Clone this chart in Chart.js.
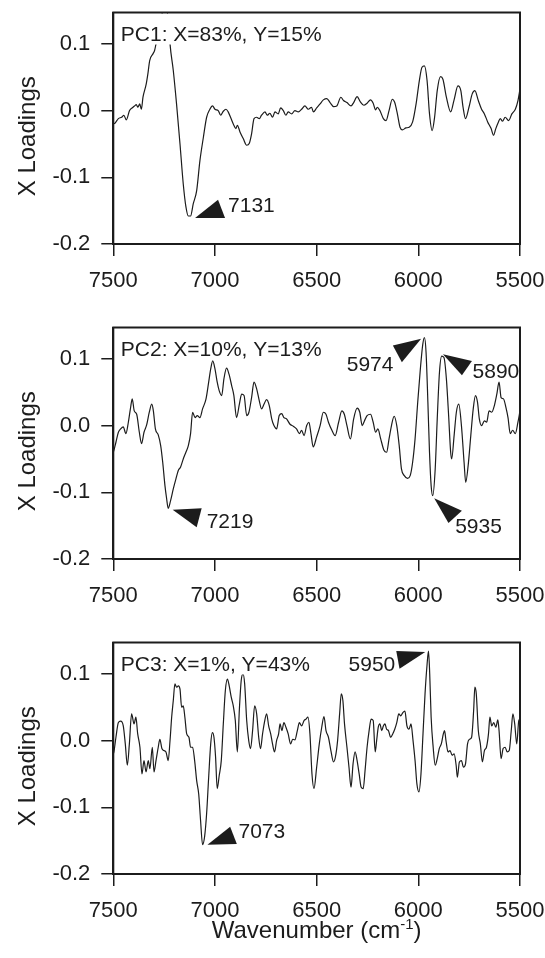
<!DOCTYPE html>
<html>
<head>
<meta charset="utf-8">
<script src="https://cdn.jsdelivr.net/npm/chart.js@4.4.1/dist/chart.umd.min.js"></script>
<style>
  html, body { margin: 0; padding: 0; background: #fff; }
  #wrap { position: relative; width: 545px; height: 958px; }
  canvas { position: absolute; left: 0; }
</style>
</head>
<body>
<div id="wrap">
  <canvas id="pc1" width="545" height="315" style="top:0px"></canvas>
  <canvas id="pc2" width="545" height="315" style="top:315px"></canvas>
  <canvas id="pc3" width="545" height="328" style="top:630px"></canvas>
</div>
<script>
// axis ticks
const xTicks = [7500, 7000, 6500, 6000, 5500]
const yTicks = [-0.2, -0.1, 0.0, 0.1]
const yTickLabels = ['-0.2', '-0.1', '0.0', '0.1']

// PC1 loadings
const pc1Wn = [7500, 7492, 7475, 7459, 7448, 7436, 7420, 7403, 7395, 7387, 7379, 7370, 7362, 7354, 7338, 7330, 7321, 7305, 7297, 7290, 7270, 7245, 7225, 7221, 7205, 7189, 7172, 7156, 7143, 7131, 7120, 7107, 7090, 7074, 7057, 7041, 7025, 7012, 7000, 6984, 6972, 6959, 6946, 6935, 6921, 6910, 6897, 6890, 6877, 6861, 6844, 6831, 6820, 6808, 6795, 6782, 6771, 6754, 6743, 6730, 6717, 6705, 6689, 6677, 6664, 6651, 6640, 6623, 6607, 6590, 6574, 6558, 6541, 6525, 6516, 6500, 6483, 6467, 6450, 6434, 6417, 6401, 6381, 6368, 6351, 6331, 6318, 6301, 6285, 6268, 6252, 6235, 6222, 6210, 6202, 6189, 6172, 6159, 6144, 6128, 6116, 6103, 6090, 6078, 6061, 6045, 6028, 6011, 5995, 5982, 5970, 5957, 5945, 5932, 5920, 5907, 5891, 5879, 5862, 5841, 5825, 5805, 5791, 5780, 5768, 5751, 5735, 5722, 5705, 5689, 5675, 5659, 5642, 5630, 5619, 5606, 5597, 5586, 5573, 5556, 5540, 5523, 5510, 5500]
const pc1Val = [-0.02, -0.019, -0.012, -0.01, -0.007, -0.014, 0, 0.005, 0.007, 0.009, 0.005, 0.01, 0.002, 0.02, 0.04, 0.055, 0.075, 0.085, 0.09, 0.1, 0.13, 0.16, 0.12, 0.1, 0.06, 0.01, -0.05, -0.11, -0.144, -0.158, -0.158, -0.14, -0.12, -0.075, -0.04, -0.01, 0.002, 0.007, 0.002, 0, -0.007, -0.001, 0.002, -0.002, -0.012, -0.02, -0.027, -0.022, -0.032, -0.042, -0.052, -0.049, -0.035, -0.012, -0.01, -0.012, -0.007, -0.002, -0.007, -0.004, -0.01, -0.002, -0.005, 0.004, 0, -0.007, -0.002, -0.005, 0, -0.002, 0.002, 0.007, 0.002, 0.005, -0.002, 0.004, 0.01, 0.016, 0.018, 0.012, 0.006, 0.007, 0.02, 0.015, 0.012, 0.007, 0.012, 0.021, 0.013, 0.008, 0.011, 0.016, 0.011, 0.001, 0.005, 0, -0.012, -0.015, 0, 0.017, 0.012, -0.005, -0.025, -0.029, -0.026, -0.025, -0.017, 0.01, 0.045, 0.065, 0.067, 0.045, -0.005, -0.03, -0.01, 0.03, 0.051, 0.047, 0.02, -0.002, 0.015, 0.037, 0.03, 0.005, -0.012, 0.005, 0.025, 0.03, 0.015, 0.002, -0.005, -0.017, -0.027, -0.037, -0.027, -0.017, -0.012, -0.016, -0.01, -0.015, -0.005, 0.002, 0.015, 0.032]

// PC2 loadings
const pc2Wn = [7500, 7497, 7487, 7475, 7464, 7451, 7438, 7426, 7415, 7407, 7397, 7385, 7372, 7361, 7349, 7336, 7323, 7311, 7303, 7293, 7279, 7267, 7257, 7246, 7238, 7230, 7218, 7205, 7192, 7180, 7169, 7156, 7143, 7131, 7120, 7110, 7098, 7087, 7074, 7061, 7044, 7031, 7021, 7011, 7000, 6989, 6979, 6967, 6956, 6943, 6931, 6918, 6907, 6894, 6880, 6869, 6857, 6844, 6833, 6820, 6808, 6795, 6782, 6771, 6759, 6746, 6733, 6721, 6710, 6697, 6684, 6672, 6661, 6648, 6631, 6615, 6599, 6585, 6574, 6562, 6549, 6538, 6528, 6517, 6500, 6483, 6467, 6454, 6442, 6425, 6409, 6392, 6376, 6364, 6351, 6334, 6318, 6301, 6288, 6276, 6265, 6252, 6235, 6222, 6210, 6199, 6185, 6169, 6156, 6144, 6132, 6119, 6106, 6094, 6083, 6069, 6053, 6040, 6028, 6016, 6003, 5990, 5978, 5970, 5962, 5953, 5945, 5937, 5929, 5917, 5907, 5896, 5885, 5874, 5862, 5851, 5841, 5836, 5824, 5813, 5801, 5788, 5775, 5767, 5755, 5742, 5730, 5719, 5709, 5700, 5689, 5675, 5664, 5652, 5639, 5626, 5614, 5603, 5593, 5581, 5569, 5559, 5548, 5536, 5523, 5510, 5500]
const pc2Val = [-0.04, -0.037, -0.025, -0.01, -0.005, -0.002, -0.012, 0.005, 0.027, 0.04, 0.022, 0.017, -0.01, -0.027, -0.01, 0.001, 0.02, 0.032, 0.022, -0.005, -0.014, -0.03, -0.055, -0.09, -0.109, -0.124, -0.112, -0.095, -0.08, -0.067, -0.062, -0.05, -0.04, -0.03, -0.012, 0.02, 0.012, 0.015, 0.012, 0.025, 0.04, 0.065, 0.085, 0.097, 0.085, 0.065, 0.052, 0.045, 0.07, 0.086, 0.077, 0.06, 0.045, 0.012, 0.032, 0.047, 0.045, 0.015, 0.02, 0.042, 0.065, 0.055, 0.037, 0.025, 0.032, 0.039, 0.03, 0.01, 0, -0.005, 0.015, 0.018, 0.012, 0.01, 0.002, -0.001, -0.005, -0.012, -0.007, -0.015, 0, 0.005, -0.012, -0.032, -0.017, 0, 0.02, 0.017, 0.005, -0.007, -0.015, 0.005, 0.022, 0.017, 0, -0.02, 0.01, 0.026, 0.02, 0, 0.007, 0.015, 0.017, 0.005, -0.01, -0.005, -0.02, -0.037, -0.04, -0.02, 0, 0.014, 0, -0.03, -0.065, -0.075, -0.079, -0.075, -0.055, -0.02, 0.035, 0.085, 0.122, 0.132, 0.11, 0.035, -0.04, -0.09, -0.105, -0.065, 0.01, 0.08, 0.104, 0.102, 0.07, 0.015, -0.04, -0.05, -0.015, 0.02, 0.032, 0, -0.055, -0.085, -0.06, -0.015, 0.025, 0.045, 0.035, 0.01, 0, 0.007, 0.005, 0.022, 0.02, 0.03, 0.047, 0.065, 0.042, 0.04, 0.027, 0.012, -0.012, -0.007, -0.012, 0.005, 0.022]

// PC3 loadings
const pc3Wn = [7500, 7497, 7487, 7475, 7464, 7451, 7441, 7431, 7421, 7410, 7398, 7389, 7380, 7369, 7359, 7349, 7339, 7328, 7320, 7308, 7300, 7290, 7279, 7271, 7261, 7251, 7241, 7230, 7221, 7213, 7205, 7197, 7189, 7180, 7172, 7164, 7156, 7148, 7139, 7128, 7120, 7110, 7100, 7090, 7080, 7071, 7061, 7051, 7041, 7031, 7021, 7013, 7005, 6997, 6989, 6979, 6969, 6959, 6949, 6939, 6930, 6920, 6910, 6900, 6890, 6880, 6871, 6862, 6854, 6844, 6834, 6825, 6815, 6805, 6795, 6785, 6776, 6766, 6757, 6746, 6736, 6726, 6717, 6707, 6697, 6687, 6680, 6671, 6661, 6651, 6640, 6628, 6618, 6607, 6595, 6585, 6574, 6562, 6553, 6543, 6533, 6523, 6513, 6500, 6487, 6475, 6464, 6454, 6442, 6430, 6417, 6408, 6397, 6387, 6379, 6371, 6363, 6351, 6341, 6331, 6321, 6311, 6301, 6291, 6281, 6271, 6262, 6252, 6242, 6232, 6222, 6212, 6205, 6197, 6189, 6180, 6172, 6164, 6156, 6147, 6136, 6126, 6116, 6106, 6096, 6086, 6076, 6066, 6056, 6046, 6036, 6026, 6016, 6007, 5997, 5987, 5977, 5967, 5957, 5950, 5944, 5937, 5927, 5917, 5907, 5897, 5887, 5877, 5871, 5864, 5854, 5844, 5834, 5824, 5814, 5808, 5798, 5788, 5778, 5768, 5758, 5748, 5738, 5728, 5722, 5715, 5705, 5695, 5685, 5675, 5665, 5655, 5648, 5639, 5629, 5619, 5609, 5603, 5593, 5583, 5573, 5563, 5553, 5543, 5535, 5526, 5516, 5506, 5500]
const pc3Val = [-0.02, -0.017, 0.005, 0.027, 0.029, 0.022, -0.005, -0.037, -0.005, 0.04, 0.025, 0.035, 0.01, -0.01, -0.05, -0.03, -0.047, -0.03, -0.042, -0.01, -0.047, -0.03, -0.01, 0.002, -0.012, -0.015, -0.017, -0.03, 0, 0.035, 0.06, 0.085, 0.08, 0.082, 0.077, 0.05, 0.052, 0.035, 0.01, 0.005, -0.01, -0.01, -0.03, -0.06, -0.08, -0.119, -0.156, -0.144, -0.109, -0.055, -0.005, 0.012, 0.005, -0.025, -0.072, -0.052, -0.03, 0.025, 0.075, 0.092, 0.082, 0.065, 0.052, 0.03, -0.017, 0.047, 0.09, 0.1, 0.085, 0.03, 0, -0.012, 0.015, 0.052, 0.04, 0.005, -0.012, 0.01, 0.027, 0.04, 0.022, 0.01, -0.005, -0.017, 0, 0.01, 0.025, 0.015, 0.027, 0.02, 0.01, -0.005, 0.002, 0.001, 0.015, 0.027, 0.022, 0.03, 0.032, 0.035, 0.01, -0.05, -0.072, -0.04, -0.005, 0.02, 0.036, 0.015, 0.005, -0.015, -0.032, -0.025, 0, 0.04, 0.07, 0.06, 0.025, -0.01, -0.04, -0.07, -0.035, -0.017, -0.03, -0.05, -0.07, -0.072, -0.045, -0.01, 0.015, 0.032, 0.03, -0.017, 0, 0.02, 0.025, 0.015, 0.022, 0.025, 0.017, 0.015, 0.005, 0.01, 0.017, 0.027, 0.04, 0.037, 0.042, 0.044, 0.022, 0.017, 0.025, 0, -0.03, -0.065, -0.077, -0.05, 0.01, 0.07, 0.114, 0.134, 0.1, 0.035, -0.01, -0.037, -0.027, -0.012, -0.005, 0.01, 0.015, 0, -0.017, -0.015, -0.022, -0.02, -0.037, -0.055, -0.032, -0.03, -0.04, -0.035, -0.005, 0.002, 0.005, 0.045, 0.08, 0.07, 0.015, -0.005, -0.032, -0.015, -0.01, 0.01, 0.035, 0.022, 0.027, 0.02, 0.031, 0.015, -0.027, -0.012, -0.01, -0.017, -0.015, 0.015, 0.04, 0.025, -0.005, 0.03, 0.032]

// panel captions and marked peaks (text, arrow tip as [wavenumber, loading])
const pc1Caption = 'PC1: X=83%, Y=15%'
const pc2Caption = 'PC2: X=10%, Y=13%'
const pc3Caption = 'PC3: X=1%, Y=43%'
const pc1Peaks = ['7131']
const pc1PeakTips = [[7098, -0.161]]
const pc2Peaks = ['7219', '5974', '5890', '5935']
const pc2PeakTips = [[7208, -0.126], [5986, 0.130], [5879, 0.107], [5922, -0.109]]
const pc3Peaks = ['7073', '5950']
const pc3PeakTips = [[7037, -0.156], [5966, 0.1326]]

const ink = '#1c1c1c'
const fontFam = '"Liberation Sans", Arial, Helvetica, sans-serif'
Chart.defaults.font.family = fontFam
Chart.defaults.color = ink

// arrowhead shapes: triangle corners and text offsets from the tip, in px
const arrowStyle = {
  '7131': { tri: [30, 0, 23, -18.3], txt: [33, -11.6], align: 'left' },
  '7219': { tri: [29, -1.4, 24, 17.6], txt: [34, 12.6], align: 'left' },
  '5974': { tri: [-28.3, 6.7, -19.3, 23.3], txt: [-27.7, 26.7], align: 'right' },
  '5890': { tri: [29, 6.7, 19, 21], txt: [29.6, 18.3], align: 'left' },
  '5935': { tri: [27.7, 12.4, 14.3, 24.7], txt: [21, 29], align: 'left' },
  '7073': { tri: [29.4, -0.7, 22.7, -18], txt: [31, -12.4], align: 'left' },
  '5950': { tri: [-29, -1, -25.7, 16.7], txt: [-30, 13.4], align: 'right' },
}

const deco = {
  id: 'deco',
  afterDatasetsDraw(chart, args, opts) {
    const { ctx, chartArea: a, scales: { x, y } } = chart
    ctx.save()
    // caption on a white patch (hides the curve underneath)
    ctx.font = '21px ' + fontFam
    const tw = ctx.measureText(opts.caption).width
    ctx.fillStyle = '#fff'
    ctx.fillRect(a.left + 4, a.top + 1, tw + 8, 31)
    ctx.fillStyle = ink
    ctx.textAlign = 'left'
    ctx.textBaseline = 'alphabetic'
    ctx.fillText(opts.caption, a.left + 7.5, a.top + 28.5)

    // peak arrows
    opts.peaks.forEach((p, i) => {
      const s = arrowStyle[p]
      const tx = x.getPixelForValue(opts.tips[i][0])
      const ty = y.getPixelForValue(opts.tips[i][1])
      ctx.beginPath()
      ctx.moveTo(tx, ty)
      ctx.lineTo(tx + s.tri[0], ty + s.tri[1])
      ctx.lineTo(tx + s.tri[2], ty + s.tri[3])
      ctx.closePath()
      ctx.fill()
      ctx.textAlign = s.align
      ctx.textBaseline = 'middle'
      ctx.fillText(p, tx + s.txt[0], ty + s.txt[1])
    })

    // frame
    ctx.strokeStyle = ink
    ctx.lineWidth = 2
    ctx.strokeRect(a.left, a.top, a.right - a.left, a.bottom - a.top)

    // y title
    ctx.font = '24px ' + fontFam
    ctx.translate(28, (a.top + a.bottom) / 2 + 8)
    ctx.rotate(-Math.PI / 2)
    ctx.textAlign = 'center'
    ctx.textBaseline = 'middle'
    ctx.fillText('X Loadings', 0, 0)
    ctx.setTransform(1, 0, 0, 1, 0, 0)

    // x title with superscript
    if (opts.xTitle) {
      const cx = (a.left + a.right) / 2
      const base = 308
      ctx.textBaseline = 'alphabetic'
      ctx.textAlign = 'left'
      ctx.font = '24px ' + fontFam
      const p1 = 'Wavenumber (cm'
      const w1 = ctx.measureText(p1).width
      const w3 = ctx.measureText(')').width
      ctx.font = '15px ' + fontFam
      const w2 = ctx.measureText('-1').width
      let sx = cx - (w1 + w2 + w3) / 2
      ctx.font = '24px ' + fontFam
      ctx.fillText(p1, sx, base)
      ctx.font = '15px ' + fontFam
      ctx.fillText('-1', sx + w1, base - 9)
      ctx.font = '24px ' + fontFam
      ctx.fillText(')', sx + w1 + w2, base)
    }
    ctx.restore()
  },
}

function makePanel(id, wn, vals, caption, peaks, tips, xTitle) {
  const canvas = document.getElementById(id)
  const h = canvas.height
  return new Chart(canvas.getContext('2d'), {
    type: 'line',
    data: {
      datasets: [
        {
          data: wn.map((w, i) => ({ x: w, y: vals[i] })),
          borderColor: ink,
          borderWidth: 1.2,
          pointRadius: 0,
          cubicInterpolationMode: 'monotone',
          fill: false,
        },
      ],
    },
    options: {
      responsive: false,
      animation: false,
      devicePixelRatio: 1,
      layout: { padding: { top: 12.5, right: 25, left: 0, bottom: 0 } },
      plugins: {
        legend: { display: false },
        tooltip: { enabled: false },
        deco: { caption, peaks, tips, xTitle },
      },
      scales: {
        x: {
          type: 'linear',
          reverse: true,
          min: 5500,
          max: 7500,
          afterBuildTicks: s => {
            s.ticks = xTicks.map(v => ({ value: v }))
          },
          afterFit: s => {
            s.height = h - 244
            s.paddingLeft = 0
            s.paddingRight = 0
          },
          ticks: {
            callback: v => String(v),
            font: { size: 22 },
            color: ink,
            padding: 12,
            maxRotation: 0,
            autoSkip: false,
          },
          grid: { drawOnChartArea: false, tickLength: 12, color: ink, lineWidth: 1.5 },
          border: { display: true, color: ink, width: 2 },
        },
        y: {
          min: -0.2,
          max: 0.147,
          afterBuildTicks: s => {
            s.ticks = yTicks.map(v => ({ value: v }))
          },
          afterFit: s => {
            s.width = 113.3
            s.paddingTop = 0
            s.paddingBottom = 0
          },
          ticks: {
            callback: (v, i) => yTickLabels[i],
            font: { size: 22 },
            color: ink,
            padding: 11,
            autoSkip: false,
          },
          grid: { drawOnChartArea: false, tickLength: 12, color: ink, lineWidth: 1.5 },
          border: { display: true, color: ink, width: 2 },
        },
      },
    },
    plugins: [deco],
  })
}

makePanel('pc1', pc1Wn, pc1Val, pc1Caption, pc1Peaks, pc1PeakTips, false)
makePanel('pc2', pc2Wn, pc2Val, pc2Caption, pc2Peaks, pc2PeakTips, false)
makePanel('pc3', pc3Wn, pc3Val, pc3Caption, pc3Peaks, pc3PeakTips, true)
</script>
</body>
</html>
